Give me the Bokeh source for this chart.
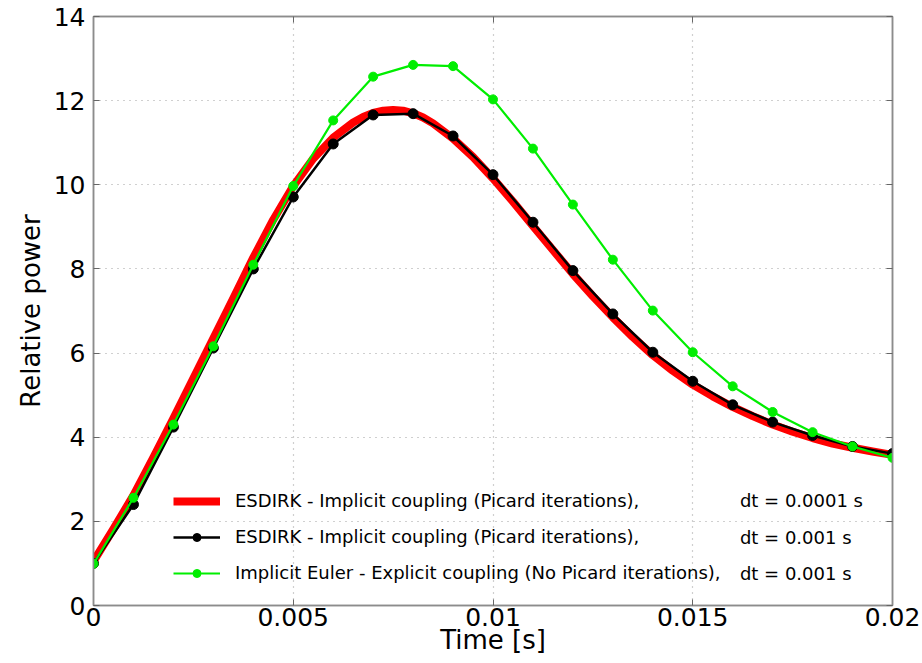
from bokeh.plotting import figure
from bokeh.models import LinearAxis, FixedTicker, Legend, LegendItem
from bokeh.core.properties import value
from bokeh.embed import file_html
from bokeh.resources import INLINE

# --- data ---
t_fine = [0.0, 0.0005, 0.001, 0.0015, 0.002, 0.0025, 0.003, 0.0035, 0.004, 0.0045,
          0.005, 0.0055, 0.006, 0.0065, 0.00675, 0.007, 0.00725, 0.0075, 0.00775, 0.008,
          0.00825, 0.0085, 0.009, 0.0095,
          0.010, 0.0105, 0.011, 0.0115, 0.012, 0.0125, 0.013, 0.0135, 0.014, 0.0145,
          0.015, 0.0155, 0.016, 0.0165, 0.017, 0.0175, 0.018, 0.0185, 0.019, 0.0195, 0.020]
p_fine = [1.05, 1.82, 2.62, 3.52, 4.45, 5.40, 6.35, 7.30, 8.27, 9.17,
          9.97, 10.62, 11.12, 11.48, 11.61, 11.71, 11.76, 11.78, 11.76, 11.70,
          11.60, 11.46, 11.10, 10.66,
          10.15, 9.60, 9.02, 8.45, 7.88, 7.35, 6.85, 6.38, 5.95, 5.58,
          5.25, 4.97, 4.72, 4.50, 4.30, 4.13, 3.98, 3.85, 3.75, 3.66, 3.58]

t_coarse = [0.0, 0.001, 0.002, 0.003, 0.004, 0.005, 0.006, 0.007, 0.008, 0.009, 0.010,
            0.011, 0.012, 0.013, 0.014, 0.015, 0.016, 0.017, 0.018, 0.019, 0.020]
p_esdirk = [1.00, 2.40, 4.24, 6.12, 8.00, 9.71, 10.97, 11.66, 11.69, 11.16, 10.24,
            9.11, 7.96, 6.93, 6.02, 5.33, 4.77, 4.36, 4.04, 3.78, 3.61]
p_euler = [0.99, 2.56, 4.30, 6.16, 8.10, 9.97, 11.53, 12.57, 12.85, 12.82, 12.03,
           10.86, 9.53, 8.22, 7.01, 6.02, 5.21, 4.60, 4.12, 3.78, 3.51]

x_ticks = [0.0, 0.005, 0.01, 0.015, 0.02]
x_tick_labels = ["0", "0.005", "0.01", "0.015", "0.02"]
y_ticks = [0, 2, 4, 6, 8, 10, 12, 14]

labels = ["ESDIRK - Implicit coupling (Picard iterations),",
          "ESDIRK - Implicit coupling (Picard iterations),",
          "Implicit Euler - Explicit coupling (No Picard iterations),"]
dt_labels = ["dt = 0.0001 s", "dt = 0.001 s", "dt = 0.001 s"]

FONT = "DejaVu Sans"
GRID = "#a0a0a0"
AXIS = "#8c8c8c"

p = figure(width=922, height=663, output_backend="svg", toolbar_location=None,
           x_range=(0, 0.02), y_range=(0, 14),
           frame_width=799, frame_height=589,
           min_border_left=93, min_border_right=30, min_border_top=16, min_border_bottom=10,
           x_axis_label="Time [s]", y_axis_label="Relative power")
p.background_fill_color = "white"
p.border_fill_color = "white"
p.outline_line_color = AXIS
p.outline_line_width = 1.5

for ax in p.xaxis:
    ax.ticker = FixedTicker(ticks=x_ticks)
    ax.major_label_overrides = {t: l for t, l in zip(x_ticks, x_tick_labels)}
for ax in p.yaxis:
    ax.ticker = FixedTicker(ticks=y_ticks)

for ax in list(p.xaxis) + list(p.yaxis):
    ax.axis_line_color = AXIS
    ax.axis_line_width = 1.5
    ax.major_tick_in = 6
    ax.major_tick_out = 0
    ax.major_tick_line_color = "#666666"
    ax.minor_tick_line_color = None
    ax.major_label_text_font = FONT
    ax.major_label_text_font_size = "25px"
    ax.major_label_text_color = "black"
    ax.axis_label_text_font = FONT
    ax.axis_label_text_font_size = "26px"
    ax.axis_label_text_font_style = "normal"
    ax.axis_label_text_color = "black"

p.xaxis.major_label_standoff = 2
p.xaxis.axis_label_standoff = -4
p.yaxis.major_label_standoff = 8
p.yaxis.axis_label_standoff = 5

# mirrored axes (ticks only)
right = LinearAxis(ticker=FixedTicker(ticks=y_ticks))
top = LinearAxis(ticker=FixedTicker(ticks=x_ticks))
for ax in (right, top):
    ax.axis_line_color = AXIS
    ax.axis_line_width = 1.5
    ax.major_tick_in = 6
    ax.major_tick_out = 0
    ax.major_tick_line_color = "#666666"
    ax.minor_tick_line_color = None
    ax.major_label_text_font_size = "0px"
    ax.major_label_text_color = None
    ax.major_label_standoff = 0
p.add_layout(right, "right")
p.add_layout(top, "above")

p.xgrid.ticker = FixedTicker(ticks=x_ticks)
p.ygrid.ticker = FixedTicker(ticks=y_ticks)
for g in (p.xgrid, p.ygrid):
    g.grid_line_color = GRID
    g.grid_line_dash = "1 5"
    g.grid_line_width = 1.2

r_red = p.line(t_fine, p_fine, line_color="red", line_width=8, line_join="round")
r_blk = p.line(t_coarse, p_esdirk, line_color="black", line_width=2.5)
r_blk_m = p.scatter(t_coarse, p_esdirk, size=10, fill_color="black", line_color="black")
r_grn = p.line(t_coarse, p_euler, line_color="#00ee00", line_width=2.2)
r_grn_m = p.scatter(t_coarse, p_euler, size=9, fill_color="#00ee00", line_color="#00ee00")

legend = Legend(items=[
    LegendItem(label=labels[0], renderers=[r_red]),
    LegendItem(label=labels[1], renderers=[r_blk, r_blk_m]),
    LegendItem(label=labels[2], renderers=[r_grn, r_grn_m]),
], location=(80, 22))
legend.background_fill_alpha = 0
legend.border_line_color = None
legend.padding = 0
legend.margin = 0
legend.spacing = 15
legend.glyph_width = 47
legend.glyph_height = 20
legend.label_height = 20
legend.label_standoff = 15
legend.label_text_font = FONT
legend.label_text_font_size = "18px"
legend.label_text_color = "black"
p.add_layout(legend, "center")

dt_y = [2.50, 1.62, 0.76]
p.text(x=[0.01618] * 3, y=dt_y, text=dt_labels, text_font=value(FONT),
       text_font_size="18px", text_baseline="middle", text_align="left",
       text_color="black")

open("out.html", "w").write(file_html(p, INLINE))
